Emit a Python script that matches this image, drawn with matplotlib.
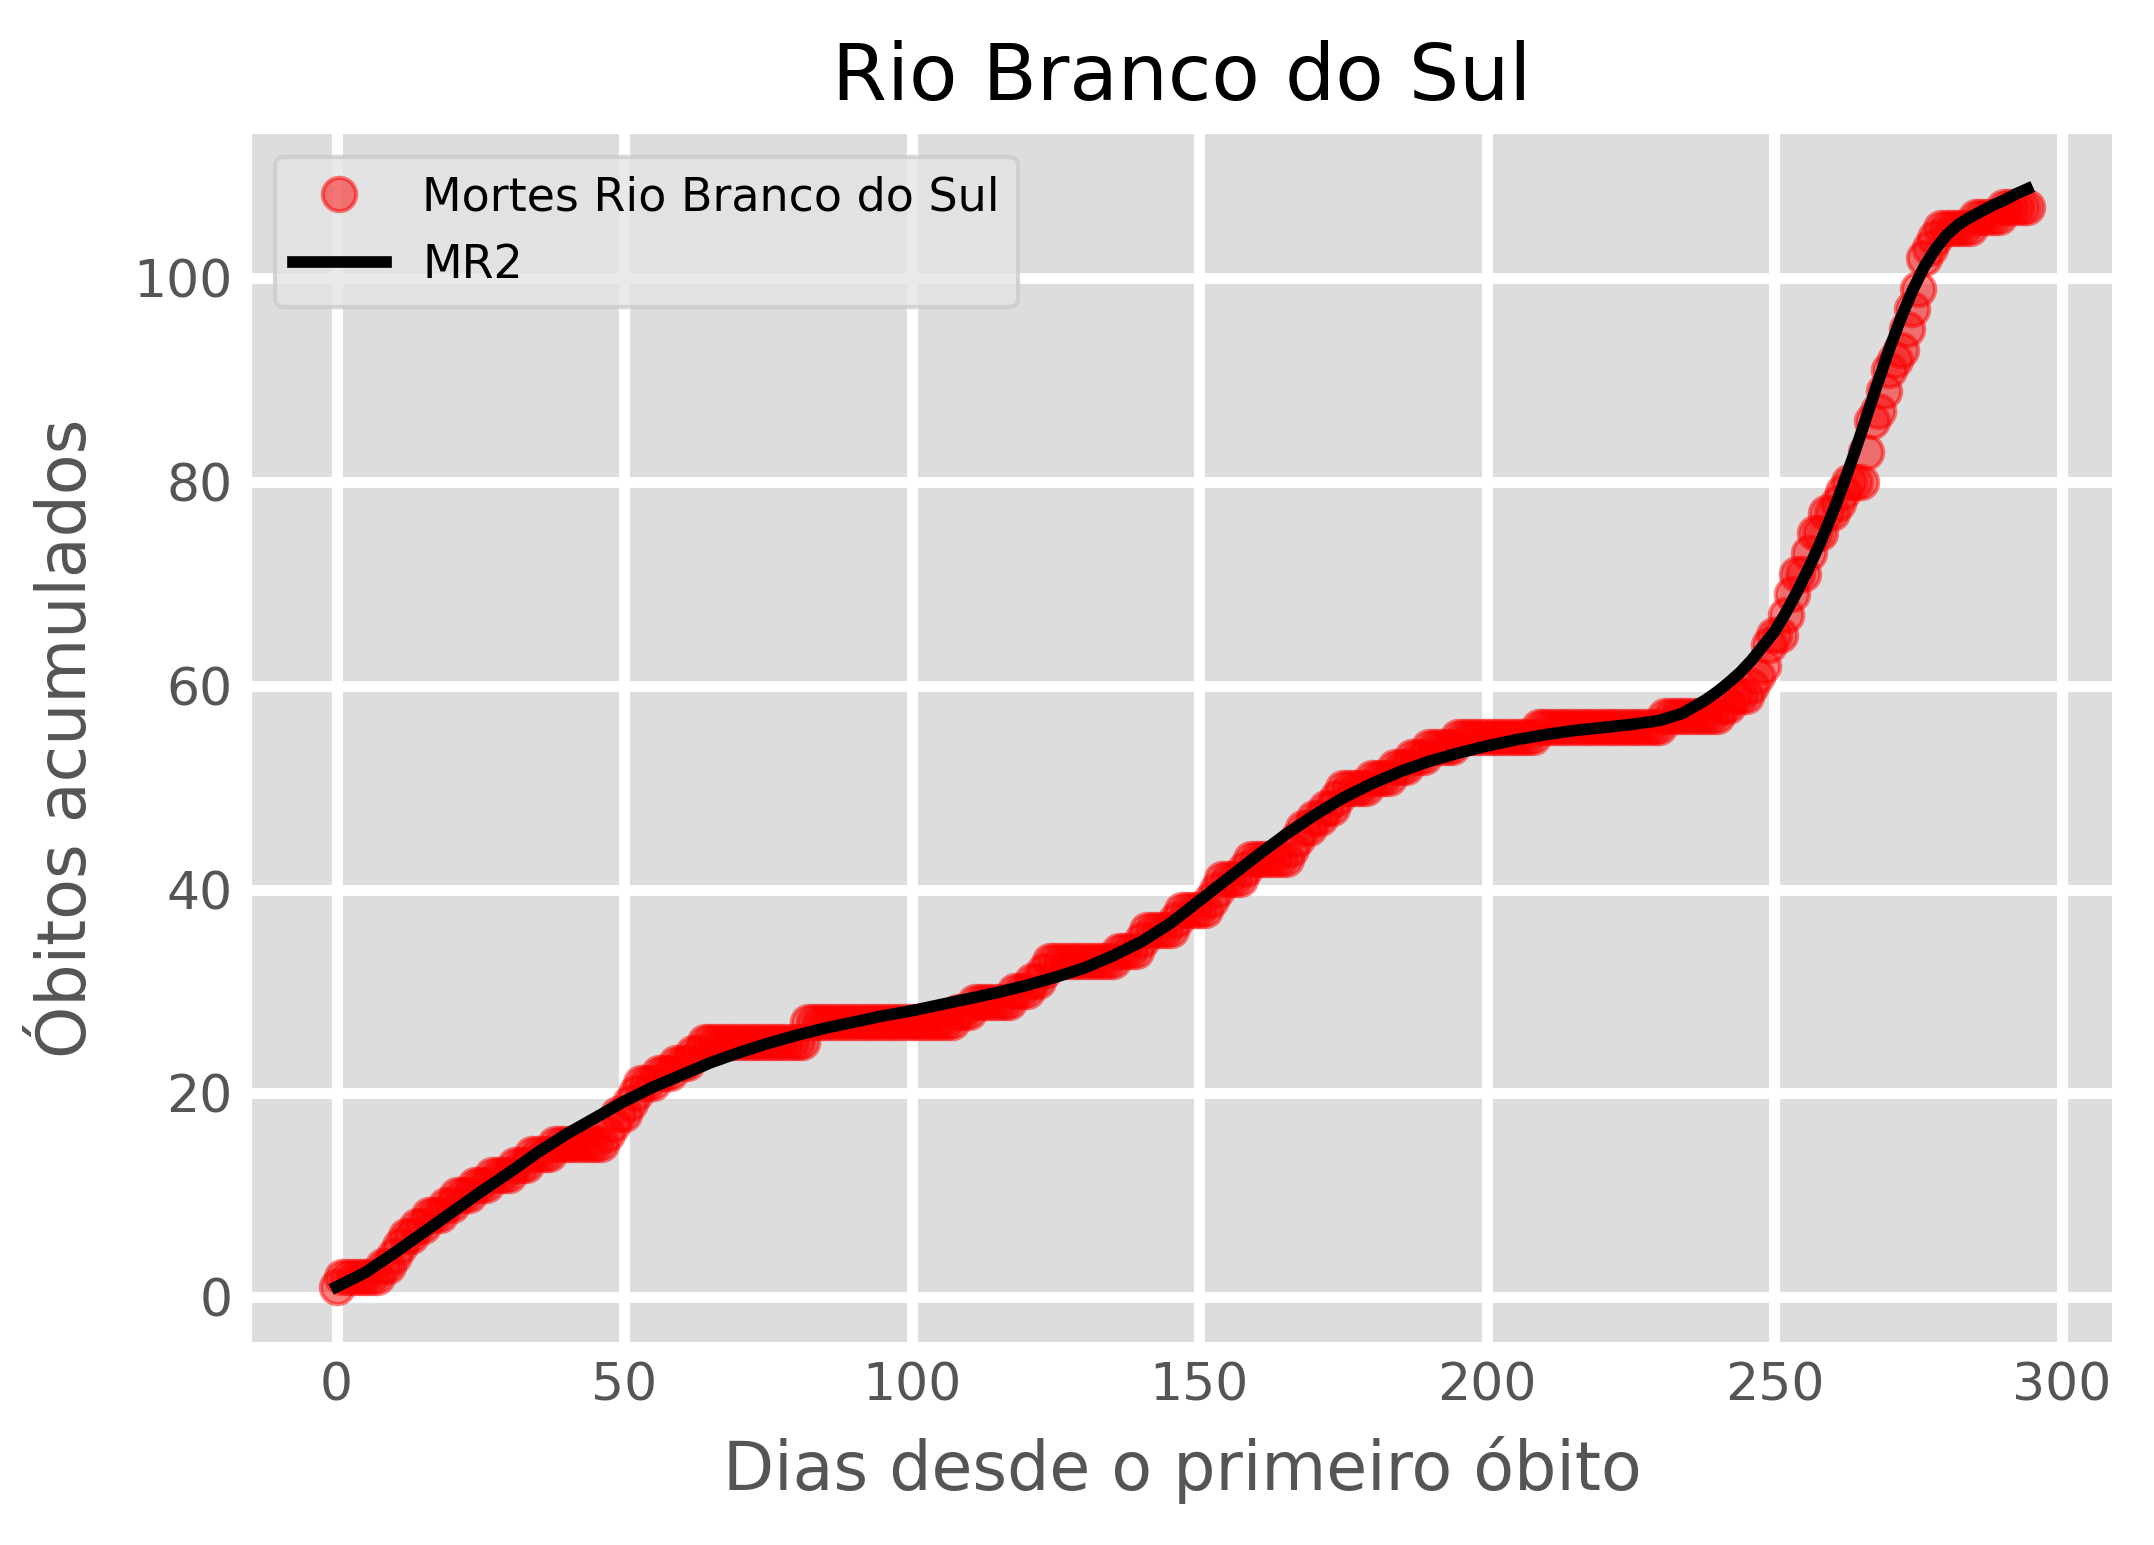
import matplotlib
matplotlib.use("Agg")
import matplotlib.pyplot as plt

# ---- data: cumulative deaths per day (days 0..294) ----
days = list(range(0, 295))
obitos = [
    1, 2, 2, 2, 2, 2, 2, 2, 3, 3,            # 0-9
    4, 5, 6, 6, 7, 7, 8, 8, 8, 9,            # 10-19
    9, 10, 10, 10, 11, 11, 11, 12, 12, 12,   # 20-29
    12, 13, 13, 13, 14, 14, 14, 14, 15, 15,  # 30-39
    15, 15, 15, 15, 15, 15, 15, 16, 17, 18,  # 40-49
    18, 19, 20, 21, 21, 21, 22, 22, 22, 23,  # 50-59
    23, 23, 24, 24, 25, 25, 25, 25, 25, 25,  # 60-69
    25, 25, 25, 25, 25, 25, 25, 25, 25, 25,  # 70-79
    25, 25, 27, 27, 27, 27, 27, 27, 27, 27,  # 80-89
    27, 27, 27, 27, 27, 27, 27, 27, 27, 27,  # 90-99
    27, 27, 27, 27, 27, 27, 27, 27, 28, 28,  # 100-109
    28, 29, 29, 29, 29, 29, 29, 29, 30, 30,  # 110-119
    30, 31, 31, 32, 33, 33, 33, 33, 33, 33,  # 120-129
    33, 33, 33, 33, 33, 33, 34, 34, 34, 34,  # 130-139
    35, 36, 36, 36, 36, 36, 37, 38, 38, 38,  # 140-149
    38, 38, 39, 40, 41, 41, 41, 41, 42, 43,  # 150-159
    43, 43, 43, 43, 43, 43, 44, 45, 46, 46,  # 160-169
    47, 47, 48, 48, 49, 50, 50, 50, 50, 50,  # 170-179
    51, 51, 51, 51, 52, 52, 52, 53, 53, 53,  # 180-189
    54, 54, 54, 54, 54, 55, 55, 55, 55, 55,  # 190-199
    55, 55, 55, 55, 55, 55, 55, 55, 55, 56,  # 200-209
    56, 56, 56, 56, 56, 56, 56, 56, 56, 56,  # 210-219
    56, 56, 56, 56, 56, 56, 56, 56, 56, 56,  # 220-229
    56, 57, 57, 57, 57, 57, 57, 57, 57, 57,  # 230-239
    57, 58, 58, 59, 59, 59, 60, 61, 62, 64,  # 240-249
    65, 65, 67, 69, 71, 71, 73, 75, 75, 77,  # 250-259
    77, 78, 79, 80, 80, 80, 83, 86, 87, 89,  # 260-269
    91, 92, 93, 95, 97, 99, 102, 103, 104, 105,  # 270-279
    105, 105, 105, 105, 105, 106, 106, 106, 106, 106,  # 280-289
    107, 107, 107, 107, 107,                 # 290-294
]

# ---- MR2 fitted curve ----
mr2_dias = [0, 5, 10, 15, 20, 25, 30, 35, 40, 45, 50, 55, 60, 65, 70, 75, 80,
            85, 90, 95, 100, 105, 110, 115, 120, 125, 130, 135, 140, 145, 150,
            155, 160, 165, 170, 175, 180, 185, 190, 195, 200, 205, 210, 215,
            220, 225, 230, 234, 238, 240, 242, 244, 246, 248, 250, 252, 254,
            256, 258, 260, 262, 264, 266, 268, 270, 272, 274, 276, 278, 280,
            282, 284, 286, 288, 290, 292, 294]
mr2_obitos = [1.0, 2.4, 4.3, 6.3, 8.3, 10.3, 12.2, 14.2, 16.0, 17.6, 19.2,
              20.6, 21.8, 23.0, 24.0, 24.9, 25.7, 26.4, 27.0, 27.6, 28.1,
              28.7, 29.3, 29.9, 30.6, 31.4, 32.3, 33.5, 34.9, 36.7, 38.9,
              41.1, 43.3, 45.4, 47.3, 49.0, 50.4, 51.6, 52.6, 53.4, 54.1,
              54.7, 55.2, 55.6, 55.9, 56.2, 56.6, 57.3, 58.6, 59.4, 60.3,
              61.3, 62.5, 63.9, 65.3, 67.2, 69.3, 71.6, 74.1, 76.8, 79.8,
              83.0, 86.4, 89.8, 93.1, 96.1, 98.8, 101.1, 102.9, 104.3, 105.3,
              106.0, 106.6, 107.2, 107.7, 108.3, 108.8]

titulo = "Rio Branco do Sul"
label_pontos = "Mortes Rio Branco do Sul"
label_modelo = "MR2"
xlabel = "Dias desde o primeiro óbito"
ylabel = "Óbitos acumulados"

plt.rcParams['font.family'] = ['DejaVu Sans']

fig = plt.figure(figsize=(2154 / 300, 1545 / 300), dpi=300)
ax = fig.add_axes([0.117, 0.1316, 0.8635, 0.7817])
ax.set_facecolor('#dddddd')
ax.set_axisbelow(True)
ax.grid(True, color='white', linewidth=2.6)
for s in ax.spines.values():
    s.set_visible(False)

ax.plot(days, obitos, 'o', color='red', alpha=0.5, markersize=8,
        markeredgewidth=1.0, label=label_pontos)
ax.plot(mr2_dias, mr2_obitos, '-', color='black', linewidth=2.8,
        label=label_modelo)

ax.set_xticks([0, 50, 100, 150, 200, 250, 300])
ax.set_yticks([0, 20, 40, 60, 80, 100])
ax.tick_params(axis='both', length=0, pad=4.7, labelsize=12.5,
               colors='#555555')
ax.set_title(titulo, fontsize=19, color='black', pad=8.2)
ax.set_xlabel(xlabel, fontsize=16, color='#555555', labelpad=6)
ax.set_ylabel(ylabel, fontsize=16, color='#555555', labelpad=8)

leg = ax.legend(loc='upper left', fontsize=11.05, facecolor='#e4e4e4',
                edgecolor='#cccccc', framealpha=0.8)

fig.savefig('out.png', dpi=300)
